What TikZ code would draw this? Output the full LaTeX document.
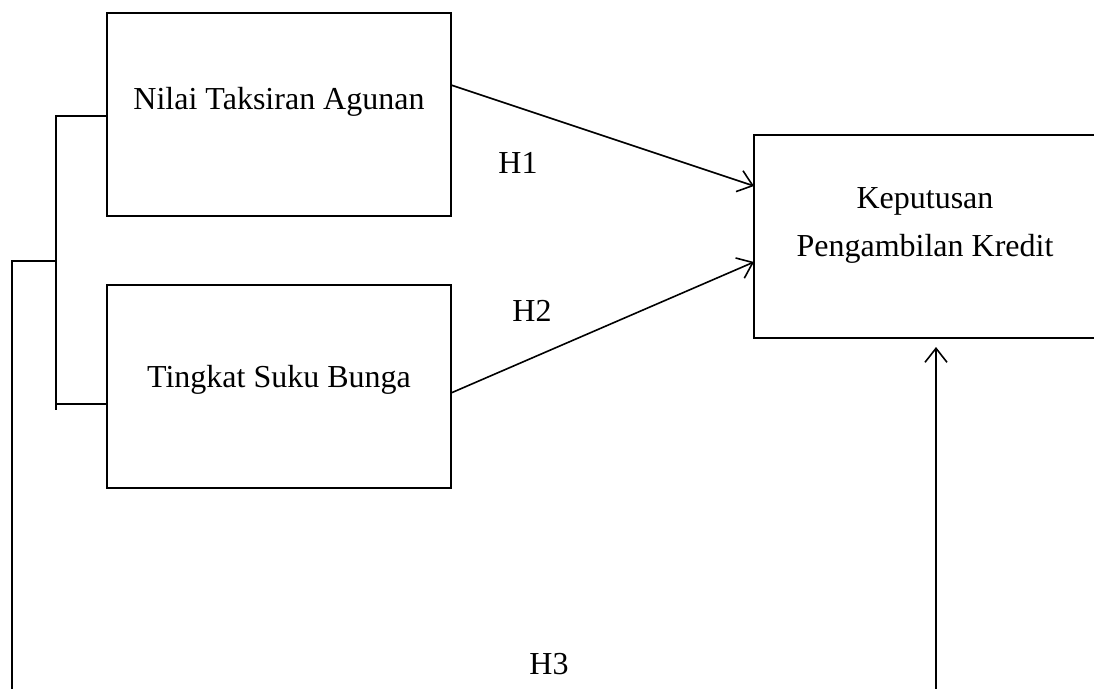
\documentclass[tikz,border=0pt]{standalone}
\usepackage{fontspec}
\setmainfont{Liberation Serif}
\usetikzlibrary{arrows.meta}
\begin{document}
\begin{tikzpicture}[x=1pt,y=-1pt,
  box/.style={draw,line width=2pt},
  lbl/.style={font=\fontsize{32}{48}\selectfont,inner sep=0pt},
  con/.style={line width=1.6pt},
  arr/.style={con,-{Straight Barb[length=14pt,width=22pt,line width=1.6pt]}}]
\useasboundingbox (0,0) rectangle (1094,688);
\begin{scope}
\clip (0,0) rectangle (1094,688);
\draw[box] (107,13) rectangle (451,216);
\draw[box] (107,285) rectangle (451,488);
\draw[box] (754,135) rectangle (1110,338);
\end{scope}
\coordinate (b1n) at (451,85);
\coordinate (b2n) at (451,393);
\coordinate (k1) at (754,186);
\coordinate (k2) at (754,262);
\coordinate (kb) at (936,347);
\coordinate (kbot) at (936,690);
\node[lbl] (t1) at (279,102) {Nilai Taksiran Agunan};
\node[lbl] (t2) at (279,380) {Tingkat Suku Bunga};
\node[lbl] (t3) at (925,201) {Keputusan};
\node[lbl] (t4) at (925,249) {Pengambilan Kredit};
\node[lbl] (h1) at (518,163) {H1};
\node[lbl] (h2) at (532,311) {H2};
\node[lbl] (h3) at (549,664) {H3};
\draw[arr] (b1n) -- (k1);
\draw[arr] (b2n) -- (k2);
\draw[arr] (kbot) -- (kb);
\coordinate (a1) at (107,116);
\coordinate (a2) at (107,404);
\coordinate (v1) at (56,116);
\coordinate (v2) at (56,410);
\coordinate (m) at (56,261);
\coordinate (l1) at (12,261);
\coordinate (l2) at (12,690);
\draw[con] (a1) -- (v1) -- (v2);
\draw[con] (56,404) -- (a2);
\draw[con] (m) -- (l1) -- (l2);
\end{tikzpicture}
\end{document}
